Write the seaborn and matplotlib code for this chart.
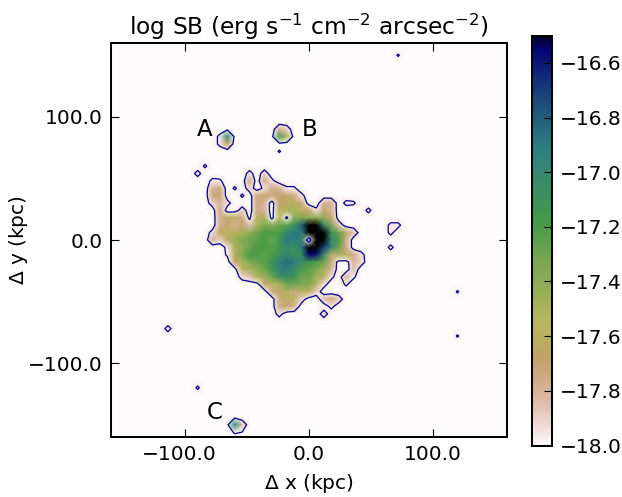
import numpy as np
import pandas as pd
import matplotlib
matplotlib.use("Agg")
import matplotlib.pyplot as plt
from matplotlib.transforms import ScaledTranslation
import seaborn as sns

# map cells are 6 kpc wide, cell 0 sits at -162 kpc
CELL = 6.0
EDGE = 162.0
N_CELLS = 55
o = -18.1  # sky, just below the colour range

# log SB of the central halo, first column is cell 12, first row is cell 17
core_first_col = 12
core_first_row = 17
core_rows = [
    [o, -17.97],
    [-17.93, o, o, o, o, o, o, -17.93, o, -17.9],
    [o, o, -17.95, -17.97, o, o, o, -17.75, o, -17.75, -17.95],
    [o, o, -17.8, -17.75, o, -17.97, o, -17.9, o, -17.95, -17.75, -17.8, -17.97, -17.97],
    [o, o, -17.75, -17.7, o, o, -17.97, o, -17.75, -17.7, -17.75, -17.7, -17.7, -17.75, -17.95],
    [o, o, -17.9, -17.8, -17.93, o, o, o, -17.75, -17.8, o, -17.7, -17.6, -17.6, -17.75, o, o, -17.8, -17.8, o, -17.95, -17.97],
    [o, o, o, -17.75, o, o, -17.9, o, -17.75, -17.8, o, -17.6, -17.5, -17.5, -17.6, -17.7, -17.95, -17.7, -17.8, o, o, o, o, -17.95],
    [o, o, o, -17.8, -17.65, -17.6, -17.75, -18.05, -17.6, -17.5, -18.1, -17.55, -18.1, -17.4, -17.35, -17.4, -17.4, -17.45, -17.7],
    [o, o, o, -17.8, -17.7, -17.8, -17.7, -17.85, -17.5, -17.35, -17.4, -17.3, -17.25, -17.1, -16.8, -16.5, -16.5, -17.0, -17.35, -17.85, o, o, o, o, o, o, -17.95, -17.95],
    [o, o, -17.93, -17.65, -17.55, -17.6, -17.5, -17.4, -17.3, -17.2, -17.2, -17.2, -17.0, -16.9, -16.9, -16.4, -16.3, -16.5, -17.1, -17.3, -17.6, -17.85, o, o, o, o, -17.95],
    [o, o, -17.8, -17.9, -17.65, -17.45, -17.35, -17.3, -17.25, -17.2, -17.3, -17.15, -16.9, -16.9, -17.0, -18.6, -16.3, -16.45, -17.0, -17.2, -17.75],
    [o, o, o, o, -17.95, -17.5, -17.4, -17.3, -17.2, -17.2, -17.25, -17.15, -17.0, -17.1, -16.9, -16.4, -16.3, -16.7, -17.0, -17.3, -17.75, o, o, o, o, o, -17.95],
    [o, o, o, o, -17.97, -17.6, -17.35, -17.2, -17.2, -17.25, -17.2, -17.1, -17.0, -17.1, -17.05, -16.55, -16.6, -17.0, -17.6, -17.5, -17.6, -17.75, -17.93],
    [o, o, o, o, o, -17.7, -17.5, -17.35, -17.3, -17.25, -17.1, -16.95, -16.85, -16.9, -17.05, -17.15, -17.2, -17.3, -17.75, o, o, -17.8, -17.9],
    [o, o, o, o, o, o, -17.6, -17.5, -17.4, -17.3, -17.15, -16.95, -16.9, -17.05, -17.2, -17.25, -17.35, -17.5, -17.8, o, o, -17.85],
    [o, o, o, o, o, o, -17.93, -17.85, -17.55, -17.45, -17.3, -17.1, -17.05, -17.15, -17.3, -17.3, -17.45, -17.6, -17.95, o, -17.8, -17.97],
    [o, o, o, o, o, o, o, o, o, -17.7, -17.55, -17.5, -17.3, -17.3, -17.35, -17.35, -17.55, -17.93, o, o, -17.97],
    [o, o, o, o, o, o, o, o, o, o, -17.75, -17.7, -17.5, -17.75, -17.6, -17.6, -17.9],
    [o, o, o, o, o, o, o, o, o, o, o, -17.75, -17.6, -17.55, -17.9, o, o, -17.85, -17.75, -17.9],
    [o, o, o, o, o, o, o, o, o, o, o, -17.75, -17.7, -17.8, o, o, o, o, -17.95],
    [o, o, o, o, o, o, o, o, o, o, o, -17.93, o, o, o, o, o, -17.9],
]

# satellites and faint specks, one entry per map cell
spot_cols = [15, 16, 16, 15, 23, 24, 23, 24, 17, 17, 18, 18, 47, 47, 39, 8, 12, 23]
spot_rows = [13, 13, 14, 14, 13, 13, 12, 12, 52, 53, 52, 53, 34, 40, 2, 39, 47, 15]
spot_vals = [-17.95, -17.05, -17.7, -17.95, -17.2, -17.6, -17.8, -17.9, -17.0,
             -17.97, -17.85, -18.0, -17.98, -17.98, -17.98, -17.93, -17.97, -17.98]

source_names = ["A", "B", "C"]
source_x = [-84.0, 0.8, -76.5]
source_y = [90.0, 90.0, -140.0]

tick_kpc = [-100.0, 0.0, 100.0]
cbar_ticks = [-18.0, -17.8, -17.6, -17.4, -17.2, -17.0, -16.8, -16.6]

sb_map = np.full((N_CELLS, N_CELLS), o)
for n, row in enumerate(core_rows):
    sb_map[core_first_row + n, core_first_col:core_first_col + len(row)] = row
sb_map[spot_rows, spot_cols] = spot_vals
df_map = pd.DataFrame(sb_map)


def to_col(x):
    return (x + EDGE) / CELL


def to_row(y):
    return (EDGE - y) / CELL


sns.set_style("white")
plt.rcParams["font.family"] = "DejaVu Sans"
plt.rcParams["mathtext.default"] = "regular"
plt.rcParams["text.color"] = "k"
plt.rcParams["axes.labelcolor"] = "k"
plt.rcParams["xtick.color"] = "k"
plt.rcParams["ytick.color"] = "k"
plt.rcParams["axes.axisbelow"] = False
LABEL_SIZE = 14.5

W, H = 622.0, 497.0
fig = plt.figure(figsize=(W / 100, H / 100), dpi=100)
ax = fig.add_axes([111 / W, 1 - 437 / H, 396 / W, 394 / H])
cax = fig.add_axes([532 / W, 1 - 445.5 / H, 20 / W, 410 / H])

cmap = sns.color_palette("gist_earth_r", as_cmap=True)
sns.heatmap(df_map, ax=ax, cbar_ax=cax, cmap=cmap, vmin=-18.0, vmax=-16.5,
            shading="gouraud", xticklabels=False, yticklabels=False,
            cbar_kws={"ticks": cbar_ticks})
cbar = ax.collections[0].colorbar
ax.contour(sb_map, levels=[-18.0], colors="darkblue", linewidths=0.9,
           linestyles="solid")

ax.set_xlim(to_col(-160), to_col(160))
ax.set_ylim(to_row(-160), to_row(160))
ax.set_xticks([to_col(v) for v in tick_kpc])
ax.set_yticks([to_row(v) for v in tick_kpc])
ax.set_xticklabels([f"{v:.1f}".replace("-", "\u2212") for v in tick_kpc])
ax.set_yticklabels([f"{v:.1f}".replace("-", "\u2212") for v in tick_kpc])
ax.tick_params(direction="in", length=6, width=0.8, top=True, right=True,
               bottom=True, left=True, labelsize=LABEL_SIZE, pad=6, color="k")
# the negative label sits a little left of its tick
neg_label = ax.get_xticklabels()[0]
neg_label.set_transform(neg_label.get_transform()
                        + ScaledTranslation(-6 / 100, 0, fig.dpi_scale_trans))
for side in ax.spines.values():
    side.set_visible(True)
    side.set_color("k")
    side.set_linewidth(1.45)

ax.set_xlabel(r"$\Delta$ x (kpc)", fontsize=LABEL_SIZE, labelpad=5.5)
ax.set_ylabel(r"$\Delta$ y (kpc)", fontsize=LABEL_SIZE, labelpad=-1.5)
ax.set_title(r"log SB (erg s$^{-1}$ cm$^{-2}$ arcsec$^{-2}$)", fontsize=16.8, pad=6)

for name, x, y in zip(source_names, source_x, source_y):
    ax.text(to_col(x), to_row(y), name, fontsize=16.5, ha="center", va="center", color="k")

cax.set_axisbelow(False)
cax.tick_params(direction="in", length=6, width=0.8, right=True, left=False,
                labelsize=LABEL_SIZE, pad=6, color="k")
cbar.outline.set_visible(True)
cbar.outline.set_linewidth(1.45)
cbar.outline.set_edgecolor("k")
cax.set_yticklabels([f"{v:.1f}".replace("-", "\u2212") for v in cbar_ticks])

fig.savefig("out.png", dpi=100)
